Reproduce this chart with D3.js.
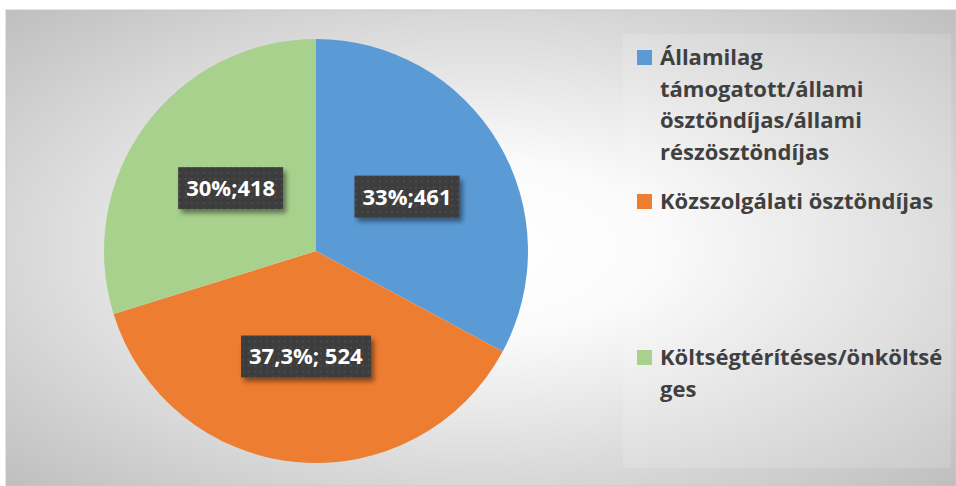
<!DOCTYPE html>
<html>
<head>
<meta charset="utf-8">
<script src="https://cdn.jsdelivr.net/npm/d3@7"></script>
<style>
  html, body { margin: 0; padding: 0; background: #fff; }
  svg { display: block; }
  .lbl { font-family: "Open Sans", Lato, sans-serif; font-weight: 700; fill: #fff; }
  .leg { font-family: "Open Sans", Lato, sans-serif; font-weight: 700; fill: #404040; }
</style>
</head>
<body>
<svg id="chart" width="956" height="486"></svg>
<script>
// ─── Daten ───────────────────────────────────────────────────────────────────
const categories = [
  'Államilag támogatott/állami ösztöndíjas/állami részösztöndíjas',
  'Közszolgálati ösztöndíjas',
  'Költségtérítéses/önköltséges',
];
const values = [461, 524, 418];
const valueLabels = ['33%;461', '37,3%; 524', '30%;418'];
// Zeilenumbruch wie im Original
const legendLines = [
  ['Államilag', 'támogatott/állami', 'ösztöndíjas/állami', 'részösztöndíjas'],
  ['Közszolgálati ösztöndíjas'],
  ['Költségtérítéses/önköltsé', 'ges'],
];
const colors = ['#5B9BD5', '#ED7D31', '#A9D18E'];

// ─── Layout ──────────────────────────────────────────────────────────────────
const area = { x: 6, y: 10, w: 950, h: 476 };
const cx = 316, cy = 251, R = 212;

const svg = d3.select('#chart');
const defs = svg.append('defs');

// Hintergrund: radialer Verlauf weiß → grau
const bg = defs.append('radialGradient')
  .attr('id', 'bg').attr('cx', 0.5).attr('cy', 0.5).attr('r', 0.72);
bg.append('stop').attr('offset', 0).attr('stop-color', '#ffffff');
bg.append('stop').attr('offset', 0.25).attr('stop-color', '#fbfbfb');
bg.append('stop').attr('offset', 1).attr('stop-color', '#bdbdbd');

// Punktmuster für die Datenbeschriftungen
const pat = defs.append('pattern')
  .attr('id', 'dots').attr('patternUnits', 'userSpaceOnUse')
  .attr('width', 6).attr('height', 6);
pat.append('rect').attr('width', 6).attr('height', 6).attr('fill', '#3c3c3c');
pat.append('rect').attr('x', 2).attr('y', 2).attr('width', 2).attr('height', 2).attr('fill', '#4b4b4b');

const shadow = defs.append('filter').attr('id', 'shadow')
  .attr('x', '-20%').attr('y', '-30%').attr('width', '150%').attr('height', '180%');
shadow.append('feDropShadow')
  .attr('dx', 3).attr('dy', 4).attr('stdDeviation', 2.5)
  .attr('flood-color', '#000').attr('flood-opacity', 0.45);

svg.append('rect')
  .attr('x', area.x).attr('y', area.y)
  .attr('width', area.w).attr('height', area.h)
  .attr('fill', 'url(#bg)')
  .attr('stroke', '#c8c8c8').attr('stroke-width', 1);

// Legendenfläche (leicht aufgehellt)
svg.append('rect')
  .attr('x', 623).attr('y', 34).attr('width', 328).attr('height', 434)
  .attr('fill', '#ffffff').attr('fill-opacity', 0.14);

// ─── Kreisdiagramm ───────────────────────────────────────────────────────────
const pie = d3.pie().sort(null).value(d => d);
const arcs = pie(values);
const arc = d3.arc().innerRadius(0).outerRadius(R);

const g = svg.append('g').attr('transform', `translate(${cx},${cy})`);

g.selectAll('path.slice')
  .data(arcs)
  .join('path')
  .attr('class', 'slice')
  .attr('d', arc)
  .attr('fill', (_d, i) => colors[i]);

// Datenbeschriftungen
const lab = g.selectAll('g.lab')
  .data(arcs)
  .join('g')
  .attr('class', 'lab')
  .attr('transform', d => `translate(${arc.centroid(d)})`);

lab.each(function (d, i) {
  const sel = d3.select(this);
  const box = sel.append('rect').attr('fill', 'url(#dots)').attr('filter', 'url(#shadow)');
  const t = sel.append('text')
    .attr('class', 'lbl')
    .attr('font-size', 22)
    .attr('text-anchor', 'middle')
    .attr('dy', '0.36em')
    .text(valueLabels[i]);
  const bb = t.node().getBBox();
  box.attr('x', bb.x - 8).attr('y', -21).attr('width', bb.width + 16).attr('height', 42);
});

// ─── Legende ─────────────────────────────────────────────────────────────────
const legendTop = [65, 209, 365];
const lineH = 31.5;

const leg = svg.selectAll('g.legitem')
  .data(categories)
  .join('g')
  .attr('class', 'legitem')
  .attr('transform', (_d, i) => `translate(637,${legendTop[i]})`);

leg.append('rect')
  .attr('x', 0).attr('y', -15).attr('width', 15).attr('height', 15)
  .attr('fill', (_d, i) => colors[i]);

leg.append('text')
  .attr('class', 'leg')
  .attr('font-size', 22)
  .attr('x', 23)
  .selectAll('tspan')
  .data((_d, i) => legendLines[i])
  .join('tspan')
  .attr('x', 23)
  .attr('y', (_d, j) => j * lineH)
  .text(d => d);
</script>
</body>
</html>
